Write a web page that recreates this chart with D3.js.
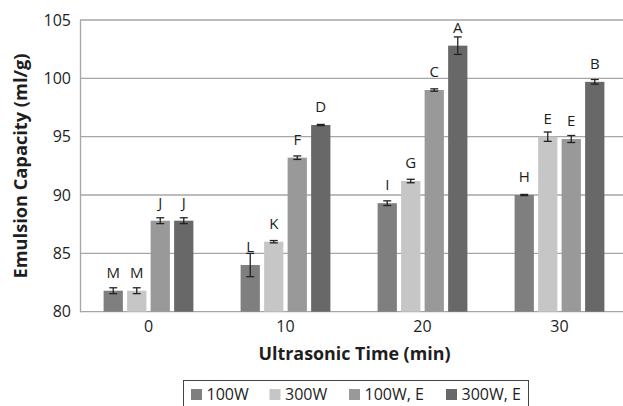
<!DOCTYPE html>
<html><head><meta charset="utf-8">
<script src="https://cdn.jsdelivr.net/npm/d3@7"></script>
<style>body{margin:0;background:#fff}svg{display:block}</style>
</head><body>
<script>
const categories = ["0","10","20","30"];
const seriesNames = ["100W","300W","100W, E","300W, E"];
const colors = ["#7f7f7f","#c6c6c6","#999999","#686868"];
const v100W  = [81.8, 84.0, 89.3, 90.0];
const v300W  = [81.8, 86.0, 91.2, 95.0];
const v100WE = [87.8, 93.2, 99.0, 94.8];
const v300WE = [87.8, 96.0, 102.8, 99.7];
const e100W  = [0.25, 1.0, 0.2, 0.05];
const e300W  = [0.25, 0.1, 0.15, 0.4];
const e100WE = [0.25, 0.15, 0.1, 0.3];
const e300WE = [0.25, 0.05, 0.75, 0.2];
const l100W  = ["M","L","I","H"];
const l300W  = ["M","K","G","E"];
const l100WE = ["J","F","C","E"];
const l300WE = ["J","D","A","B"];
const yTicks = [80,85,90,95,100,105];

const values = [v100W, v300W, v100WE, v300WE];
const errs = [e100W, e300W, e100WE, e300WE];
const labels = [l100W, l300W, l100WE, l300WE];

const W = 623, H = 406;
const svg = d3.select("body").append("svg").attr("width", W).attr("height", H);
const font = "'Open Sans', sans-serif";
const ink = "#1e1e1e";

const x0 = d3.scaleBand().domain(categories).range([80, 628]).paddingInner(0).paddingOuter(0);
const x1 = d3.scaleBand().domain(d3.range(4)).range([23.6, 137 - 23.6]).paddingInner(0.18).paddingOuter(0);
const y = d3.scaleLinear().domain([80, 105]).range([311.7, 20]);

// gridlines
svg.append("g").selectAll("line").data(yTicks).join("line")
  .attr("x1", 80).attr("x2", 628)
  .attr("y1", d => y(d)).attr("y2", d => y(d))
  .attr("stroke", "#a6a6a6").attr("stroke-width", 1.3);

// y axis
const yAxis = svg.append("g").attr("transform", "translate(80,0)")
  .call(d3.axisLeft(y).tickValues(yTicks).tickSize(0).tickPadding(9));
yAxis.select(".domain").attr("stroke", "#a6a6a6").attr("stroke-width", 1.3);
yAxis.selectAll("text").attr("font-family", font).attr("font-size", 16).attr("fill", ink);

// x axis
const xAxis = svg.append("g").attr("transform", `translate(0,${y(80)})`)
  .call(d3.axisBottom(x0).tickSize(0).tickPadding(9));
xAxis.select(".domain").remove();
xAxis.selectAll("text").attr("font-family", font).attr("font-size", 16).attr("fill", ink);

// bars, error bars, letter labels
const groups = svg.append("g").selectAll("g").data(categories).join("g")
  .attr("transform", d => `translate(${x0(d)},0)`);
groups.each(function(cat, ci) {
  const g = d3.select(this);
  for (let s = 0; s < 4; s++) {
    const v = values[s][ci], e = errs[s][ci];
    const bx = x1(s), bw = x1.bandwidth(), cx = bx + bw / 2;
    g.append("rect").attr("x", bx).attr("width", bw)
      .attr("y", y(v)).attr("height", y(80) - y(v)).attr("fill", colors[s]);
    const eg = g.append("g").attr("stroke", "#222").attr("stroke-width", 1.3);
    eg.append("line").attr("x1", cx).attr("x2", cx).attr("y1", y(v + e)).attr("y2", y(v - e));
    eg.append("line").attr("x1", cx - 4).attr("x2", cx + 4).attr("y1", y(v + e)).attr("y2", y(v + e));
    eg.append("line").attr("x1", cx - 4).attr("x2", cx + 4).attr("y1", y(v - e)).attr("y2", y(v - e));
    g.append("text").attr("x", cx).attr("y", y(v) - 13)
      .attr("text-anchor", "middle").attr("font-family", font).attr("font-size", 15)
      .attr("fill", ink).text(labels[s][ci]);
  }
});

// axis titles, sized to span the same length as in the reference
function fit(sel, target) {
  const len = sel.node().getComputedTextLength();
  if (len > 0) sel.attr("font-size", 16 * target / len);
}
const xt = svg.append("text").attr("x", 354.5).attr("y", 360).attr("text-anchor", "middle")
  .attr("font-family", font).attr("font-size", 16).attr("font-weight", "bold").attr("fill", ink)
  .text("Ultrasonic Time (min)");
fit(xt, 192);
const yt = svg.append("text").attr("transform", "translate(27,166) rotate(-90)").attr("text-anchor", "middle")
  .attr("font-family", font).attr("font-size", 16).attr("font-weight", "bold").attr("fill", ink)
  .text("Emulsion Capacity (ml/g)");
fit(yt, 225);

// legend
svg.append("rect").attr("x", 183.5).attr("y", 380.5).attr("width", 345).attr("height", 40)
  .attr("fill", "none").attr("stroke", "#444").attr("stroke-width", 1);
const legX = [191, 269.5, 349, 446];
seriesNames.forEach((n, i) => {
  svg.append("rect").attr("x", legX[i]).attr("y", 389).attr("width", 11).attr("height", 11).attr("fill", colors[i]);
  svg.append("text").attr("x", legX[i] + 15.5).attr("y", 400).attr("font-family", font)
    .attr("font-size", 16).attr("fill", ink).text(n);
});
</script>
</body></html>
